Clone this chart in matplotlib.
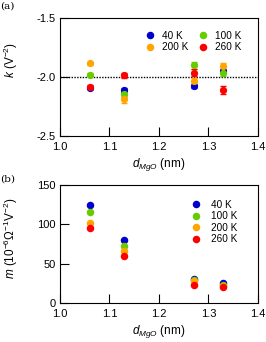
import numpy as np
import matplotlib
matplotlib.use("Agg")
from matplotlib import pyplot as plt

plt.rcParams['font.family']=['Liberation Sans','DejaVu Sans']
plt.rcParams['mathtext.fontset']='custom'
plt.rcParams['mathtext.rm']='Liberation Sans'
plt.rcParams['mathtext.it']='Liberation Sans:italic'

d_mgo=[1.06,1.13,1.27,1.33]
temps=["40 K","100 K","200 K","260 K"]
colors=["#0000CC","#66CC00","#FFA500","#FF0000"]

# panel (a): k (V^-2) with error bars
k_vals={
    "40 K":[-2.09,-2.11,-2.075,-1.95],
    "100 K":[-1.98,-2.14,-1.90,-1.97],
    "200 K":[-1.885,-2.19,-2.035,-1.91],
    "260 K":[-2.085,-1.985,-1.965,-2.11],
}
k_err={
    "40 K":[0.015,0.02,0.02,0.02],
    "100 K":[0.015,0.03,0.03,0.02],
    "200 K":[0.015,0.03,0.03,0.03],
    "260 K":[0.015,0.02,0.03,0.03],
}
# panel (b): m (1e-6 Ohm^-1 V^-2)
m_vals={
    "40 K":[125,80,30.4,25],
    "100 K":[115.3,72.2,29,22.5],
    "200 K":[102,66.3,28.3,22],
    "260 K":[95.5,60.4,22.8,20.3],
}

fig=plt.figure(figsize=(2.66,3.42),dpi=100)
ax1=fig.add_axes([0.2256,0.6023,0.744,0.345])
ax2=fig.add_axes([0.2256,0.114,0.744,0.345])

for t,c in zip(temps,colors):
    ax1.errorbar(d_mgo,k_vals[t],yerr=k_err[t],fmt='o',color=c,ms=4.2,capsize=2.2,elinewidth=1,capthick=1,label=t)
    ax2.plot(d_mgo,m_vals[t],'o',color=c,ms=4.4,label=t,linestyle='none')

ax1.axhline(-2.0,color='black',ls=(0,(1,1)),lw=1,zorder=0)

for ax in (ax1,ax2):
    ax.set_xlim(1.0,1.4)
    ax.set_xticks([1.0,1.1,1.2,1.3,1.4])
    ax.tick_params(direction='in',length=6.5,width=0.8,labelsize=8,top=False,right=False,pad=3)
    ax.tick_params(axis='x',pad=4.5)
    for s in ax.spines.values(): s.set_linewidth(0.8)
    ax.set_xlabel(r'$\mathit{d}_{\mathit{MgO}}$ (nm)',fontsize=8.5,labelpad=2.5)

ax1.set_ylim(-2.5,-1.5)
ax1.set_yticks([-2.5,-2.0,-1.5])
ax1.set_yticklabels(["-2.5","-2.0","-1.5"])
ax1.set_ylabel(r'$\mathit{k}$ (V$^{-2}$)',fontsize=8.5)
ax1.yaxis.set_label_coords(-0.20,0.64)

ax2.set_ylim(0,150)
ax2.set_yticks([0,50,100,150])
ax2.set_ylabel(r'$\mathit{m}$ (10$^{-6}$$\Omega^{-1}$V$^{-2}$)',fontsize=8.5)
ax2.yaxis.set_label_coords(-0.20,0.55)

order=["40 K","200 K","100 K","260 K"]
hs=[plt.Line2D([],[],marker='o',ls='none',color=colors[temps.index(o)],ms=4.4) for o in order]
ax1.legend(hs,order,ncol=2,fontsize=7.2,frameon=False,loc='upper right',bbox_to_anchor=(0.96,0.97),
           handletextpad=0.7,columnspacing=0.9,labelspacing=0.15,handlelength=1.0)
ax2.legend(fontsize=7.2,frameon=False,loc='upper right',bbox_to_anchor=(0.94,0.95),
           handletextpad=1.0,labelspacing=0.15,handlelength=1.0)

fig.text(0.002,0.995,"(a)",fontsize=7.5,family='DejaVu Serif',va='top')
fig.text(0.002,0.49,"(b)",fontsize=7.5,family='DejaVu Serif',va='top')

fig.savefig("out.png",dpi=100)
